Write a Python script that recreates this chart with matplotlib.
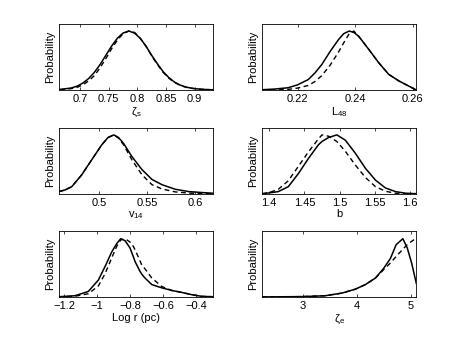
import matplotlib
matplotlib.use("Agg")
import matplotlib.pyplot as plt

plt.rcParams['font.family'] = ['Liberation Sans', 'DejaVu Sans']
plt.rcParams['mathtext.fontset'] = 'custom'
plt.rcParams['mathtext.rm'] = 'Liberation Sans'
plt.rcParams['mathtext.it'] = 'Liberation Sans:italic'

# ---------------- data (normalised probability) ----------------
# Panel 1: zeta_s
x1 = [0.665, 0.675, 0.685, 0.695, 0.705, 0.715, 0.725, 0.735, 0.745, 0.755, 0.765, 0.775,
      0.785, 0.795, 0.805, 0.815, 0.825, 0.835, 0.845, 0.855, 0.865, 0.875, 0.885, 0.895,
      0.905, 0.915, 0.925, 0.935]
s1 = [0.01, 0.02, 0.032, 0.06, 0.107, 0.176, 0.27, 0.39, 0.53, 0.67, 0.79, 0.87,
      0.90, 0.87, 0.79, 0.67, 0.53, 0.40, 0.28, 0.19, 0.12, 0.075, 0.045, 0.028,
      0.017, 0.01, 0.006, 0.004]
d1 = [0.005, 0.012, 0.022, 0.042, 0.08, 0.14, 0.22, 0.34, 0.48, 0.63, 0.76, 0.86,
      0.90, 0.88, 0.79, 0.67, 0.52, 0.39, 0.27, 0.18, 0.115, 0.07, 0.042, 0.026,
      0.016, 0.01, 0.006, 0.004]

# Panel 2: L_48
x2 = [0.2077, 0.2120, 0.2167, 0.2200, 0.2237, 0.2260, 0.2284, 0.2313, 0.2342, 0.2360,
      0.2379, 0.2395, 0.2412, 0.2447, 0.2481, 0.2516, 0.2551, 0.2586, 0.2612]
s2 = [0.005, 0.015, 0.035, 0.08, 0.16, 0.26, 0.39, 0.59, 0.77, 0.86,
      0.90, 0.88, 0.82, 0.62, 0.42, 0.24, 0.14, 0.06, 0.0]
d2 = [0.0, 0.004, 0.01, 0.03, 0.07, 0.13, 0.22, 0.38, 0.58, 0.72,
      0.86, 0.90, 0.82, 0.62, 0.42, 0.24, 0.14, 0.06, 0.0]

# Panel 3: v_14
x3 = [0.4575, 0.4640, 0.4710, 0.4814, 0.4919, 0.5025, 0.5090, 0.5151, 0.5200, 0.5253,
      0.5340, 0.5446, 0.5551, 0.5656, 0.5796, 0.5937, 0.6077, 0.6190]
s3 = [0.035, 0.06, 0.11, 0.29, 0.52, 0.75, 0.86, 0.90, 0.86, 0.77,
      0.57, 0.37, 0.22, 0.14, 0.07, 0.035, 0.02, 0.01]
d3 = [0.035, 0.06, 0.11, 0.29, 0.52, 0.75, 0.86, 0.90, 0.85, 0.75,
      0.52, 0.29, 0.14, 0.075, 0.03, 0.012, 0.005, 0.003]

# Panel 4: b
x4 = [1.390, 1.400, 1.4129, 1.4271, 1.4414, 1.4557, 1.4700, 1.4750, 1.4843, 1.4960, 1.5081,
      1.5224, 1.5367, 1.5510, 1.5652, 1.5795, 1.5938, 1.6090]
s4 = [0.005, 0.015, 0.035, 0.11, 0.31, 0.54, 0.75, 0.80, 0.86, 0.90, 0.82,
      0.62, 0.39, 0.21, 0.09, 0.035, 0.01, 0.003]
d4 = [0.0, 0.02, 0.07, 0.20, 0.42, 0.64, 0.84, 0.90, 0.88, 0.80, 0.65,
      0.44, 0.25, 0.11, 0.04, 0.01, 0.002, 0.0]

# Panel 5: Log r (pc)
x5 = [-1.232, -1.135, -1.054, -0.993, -0.952, -0.912, -0.881, -0.858, -0.832, -0.802,
      -0.781, -0.771, -0.741, -0.731, -0.711, -0.670, -0.609, -0.548, -0.488, -0.427,
      -0.366, -0.300]
s5 = [0.005, 0.02, 0.085, 0.26, 0.47, 0.69, 0.82, 0.89, 0.86, 0.75,
      0.61, 0.54, 0.39, 0.35, 0.29, 0.19, 0.14, 0.10, 0.07, 0.035,
      0.01, 0.005]
d5 = [0.003, 0.012, 0.05, 0.17, 0.36, 0.60, 0.78, 0.87, 0.89, 0.84,
      0.77, 0.72, 0.55, 0.49, 0.43, 0.29, 0.16, 0.10, 0.07, 0.035,
      0.01, 0.005]

# Panel 6: zeta_e
x6 = [2.248, 2.600, 3.000, 3.106, 3.416, 3.727, 3.975, 4.161, 4.348, 4.503, 4.627,
      4.733, 4.857, 4.938, 5.019, 5.106]
s6 = [0.002, 0.004, 0.007, 0.01, 0.02, 0.06, 0.12, 0.19, 0.29, 0.44, 0.59,
      0.80, 0.89, 0.75, 0.52, 0.21]
d6 = [0.002, 0.004, 0.007, 0.01, 0.02, 0.06, 0.12, 0.19, 0.29, 0.42, 0.52,
      0.62, 0.73, 0.80, 0.85, 0.90]

panels = [
    (x1, s1, d1, (0.663, 0.932), [0.7, 0.75, 0.8, 0.85, 0.9], ['0.7', '0.75', '0.8', '0.85', '0.9'], 'ζ$_\\mathrm{s}$'),
    (x2, s2, d2, (0.2077, 0.2612), [0.22, 0.24, 0.26], ['0.22', '0.24', '0.26'], 'L$_\\mathrm{48}$'),
    (x3, s3, d3, (0.4575, 0.619), [0.5, 0.55, 0.6], ['0.5', '0.55', '0.6'], 'v$_\\mathrm{14}$'),
    (x4, s4, d4, (1.39, 1.609), [1.4, 1.45, 1.5, 1.55, 1.6], ['1.4', '1.45', '1.5', '1.55', '1.6'], 'b'),
    (x5, s5, d5, (-1.232, -0.30), [-1.2, -1.0, -0.8, -0.6, -0.4], ['\u22121.2', '\u22121', '\u22120.8', '\u22120.6', '\u22120.4'], 'Log r (pc)'),
    (x6, s6, d6, (2.248, 5.106), [3, 4, 5], ['3', '4', '5'], 'ζ$_\\mathrm{e}$'),
]

# axes positions in figure fraction
lefts = [0.128, 0.570]
bottoms = [0.739, 0.438, 0.139]
w, h = 0.335, 0.19

fig = plt.figure(figsize=(4.6, 3.45), dpi=100)
for i, (x, s, d, xl, ticks, tlabels, label) in enumerate(panels):
    ax = fig.add_axes([lefts[i % 2], bottoms[i // 2], w, h])
    ax.plot(x, s, color='black', lw=1.1)
    ax.plot(x, d, color='black', lw=1.0, dashes=(3.5, 2.5))
    ax.set_xlim(*xl)
    ax.set_ylim(0, 1)
    ax.set_yticks([])
    ax.set_xticks(ticks)
    ax.set_xticklabels(tlabels)
    ax.tick_params(axis='x', direction='in', top=True, length=2.5, width=0.5,
                   labelsize=8, pad=3)
    for sp in ax.spines.values():
        sp.set_linewidth(0.6)
    ax.set_xlabel(label, fontsize=8, labelpad=1)
    ax.set_ylabel('Probability', fontsize=8, labelpad=3)

fig.savefig('out.png', dpi=100)
